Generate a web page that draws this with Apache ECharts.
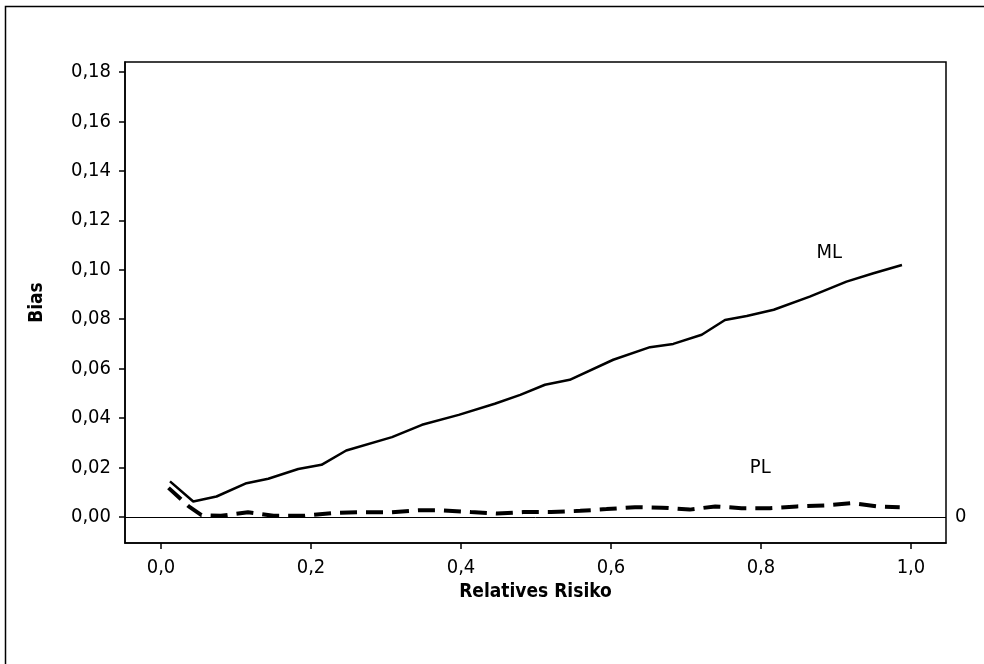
<!DOCTYPE html>
<html>
<head>
<meta charset="utf-8">
<script src="https://cdn.jsdelivr.net/npm/echarts@6/dist/echarts.min.js"></script>
<style>html,body{margin:0;padding:0;background:#fff}#c{width:984px;height:664px}</style>
</head>
<body>
<div id="c"></div>
<script>
const xTicks = [0, 0.2, 0.4, 0.6, 0.8, 1.0];
const yTicks = [0, 0.02, 0.04, 0.06, 0.08, 0.10, 0.12, 0.14, 0.16, 0.18];

const mlX = [0.012, 0.043, 0.074, 0.114, 0.143, 0.183, 0.214, 0.247, 0.308, 0.348, 0.397, 0.445, 0.479, 0.512, 0.545, 0.603, 0.652, 0.683, 0.721, 0.752, 0.781, 0.817, 0.865, 0.914, 0.950, 0.988];
const mlY = [0.0144, 0.0063, 0.0083, 0.0137, 0.0155, 0.0194, 0.0211, 0.0269, 0.0323, 0.0373, 0.0413, 0.0458, 0.0494, 0.0535, 0.0555, 0.0636, 0.0687, 0.0700, 0.0737, 0.0797, 0.0813, 0.0838, 0.0891, 0.0952, 0.0986, 0.1019];

const plX = [0.010, 0.037, 0.054, 0.080, 0.116, 0.150, 0.190, 0.228, 0.263, 0.307, 0.343, 0.375, 0.413, 0.448, 0.483, 0.520, 0.559, 0.594, 0.632, 0.668, 0.705, 0.739, 0.774, 0.812, 0.848, 0.885, 0.921, 0.956, 0.985];
const plY = [0.0118, 0.0043, 0.0008, 0.0005, 0.0019, 0.0005, 0.0005, 0.0016, 0.0019, 0.0019, 0.0027, 0.0027, 0.0020, 0.0014, 0.0020, 0.0020, 0.0025, 0.0032, 0.0040, 0.0038, 0.0030, 0.0043, 0.0036, 0.0036, 0.0043, 0.0047, 0.0056, 0.0043, 0.0040];

const seriesLabels = [
  { name: 'ML', x: 0.891, y: 0.1070 },
  { name: 'PL', x: 0.799, y: 0.0199 }
];

const zip = (xs, ys) => xs.map((x, i) => [x, ys[i]]);
const font = "'DejaVu Sans Condensed', 'DejaVu Sans'";

const chart = echarts.init(document.getElementById('c'), null, { renderer: 'canvas' });
chart.setOption({
  animation: false,
  backgroundColor: '#fff',
  graphic: [{
    type: 'rect', left: 3, top: 4,
    shape: { x: 0, y: 0, width: 1000, height: 700 },
    style: { fill: 'none', stroke: '#000', lineWidth: 1.5 },
    silent: true
  }],
  grid: { left: 125, right: 38, top: 62, bottom: 121, show: true, borderColor: '#000', borderWidth: 1.5, backgroundColor: 'transparent' },
  xAxis: {
    type: 'value', min: -0.048, max: 1.0467,
    name: 'Relatives Risiko', nameLocation: 'middle', nameGap: 40,
    nameTextStyle: { fontFamily: font, fontWeight: 'bold', fontSize: 19, color: '#000' },
    axisLine: { show: true, onZero: false, lineStyle: { color: '#000', width: 1.5 } },
    axisTick: { show: true, length: 6, customValues: xTicks, lineStyle: { color: '#000', width: 1.5 } },
    axisLabel: { customValues: xTicks, margin: 15, fontFamily: font, fontSize: 20, color: '#000',
      formatter: v => v.toFixed(1).replace('.', ',') },
    splitLine: { show: false }
  },
  yAxis: {
    type: 'value', min: -0.0105, max: 0.184,
    name: 'Bias', nameLocation: 'middle', nameGap: 78,
    nameTextStyle: { fontFamily: font, fontWeight: 'bold', fontSize: 19, color: '#000' },
    axisLine: { show: true, onZero: false, lineStyle: { color: '#000', width: 1.5 } },
    axisTick: { show: true, length: 6, customValues: yTicks, lineStyle: { color: '#000', width: 1.5 } },
    axisLabel: { customValues: yTicks, margin: 14, fontFamily: font, fontSize: 20, color: '#000',
      formatter: v => v.toFixed(2).replace('.', ',') },
    splitLine: { show: false }
  },
  series: [
    {
      name: 'ML', type: 'line', data: zip(mlX, mlY), showSymbol: false, smooth: false,
      lineStyle: { color: '#000', width: 2.5 },
      markLine: {
        silent: true, symbol: 'none',
        lineStyle: { color: '#000', width: 1, type: 'solid' },
        label: { show: true, position: 'end', distance: 9, formatter: '0', fontFamily: font, fontSize: 20, color: '#000' },
        data: [{ yAxis: 0 }]
      },
      markPoint: {
        silent: true, symbol: 'circle', symbolSize: 0,
        label: { show: true, position: 'inside', fontFamily: font, fontSize: 20, color: '#000', formatter: p => p.name },
        data: seriesLabels.map(l => ({ name: l.name, coord: [l.x, l.y] }))
      }
    },
    {
      name: 'PL', type: 'line', data: zip(plX, plY), showSymbol: false, smooth: false,
      lineStyle: { color: '#000', width: 4, type: [17, 9] }
    }
  ]
});
</script>
</body>
</html>
